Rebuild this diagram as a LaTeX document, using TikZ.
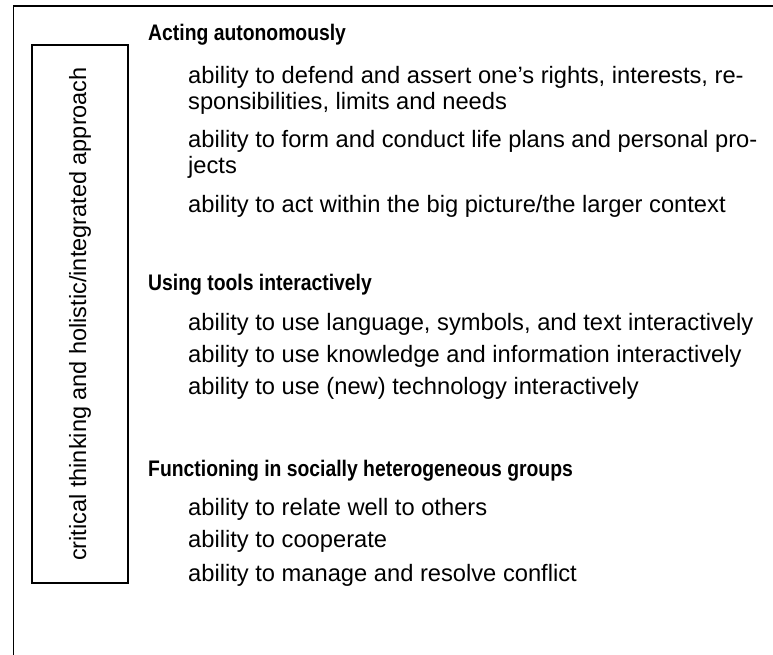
\documentclass[tikz,border=0pt]{standalone}
\usepackage{graphicx}
\usepackage{fontspec}
\setmainfont{Liberation Sans}
\newcommand{\narrowhead}[1]{\scalebox{0.86}[1]{#1}}
\begin{document}
\begin{tikzpicture}[x=1pt,y=-1pt,
  frame/.style={line width=1.5pt,black},
  head/.style={anchor=base west,inner sep=0pt,font=\fontsize{22.5}{27}\selectfont\bfseries},
  item/.style={anchor=base west,inner sep=0pt,font=\fontsize{23.7}{28}\selectfont},
  side/.style={inner sep=0pt,rotate=90,font=\fontsize{23.5}{28}\selectfont}]
\useasboundingbox (0,0) rectangle (773,654);
\draw[frame] (13.5,660) -- (13.5,6) -- (780,6);
\node[draw,line width=1.5pt,minimum width=96pt,minimum height=538pt,inner sep=0pt] (sidebox) at (80,314) {};
\node[side] (sidetext) at (sidebox.center) {critical thinking and holistic/integrated approach};
\node[head] (h1) at (148,40) {\narrowhead{Acting autonomously}};
\node[item] (a1) at (188,83) {ability to defend and assert one’s rights, interests, re-};
\node[item] (a2) at (188,109) {sponsibilities, limits and needs};
\node[item] (a3) at (188,147) {ability to form and conduct life plans and personal pro-};
\node[item] (a4) at (188,173) {jects};
\node[item] (a5) at (188,212) {ability to act within the big picture/the larger context};
\node[head] (h2) at (148,290) {\narrowhead{Using tools interactively}};
\node[item] (b1) at (188,330) {ability to use language, symbols, and text interactively};
\node[item] (b2) at (188,362) {ability to use knowledge and information interactively};
\node[item] (b3) at (188,394) {ability to use (new) technology interactively};
\node[head] (h3) at (148,476) {\narrowhead{Functioning in socially heterogeneous groups}};
\node[item] (c1) at (188,515) {ability to relate well to others};
\node[item] (c2) at (188,547) {ability to cooperate};
\node[item] (c3) at (188,581) {ability to manage and resolve conflict};
\end{tikzpicture}
\end{document}
